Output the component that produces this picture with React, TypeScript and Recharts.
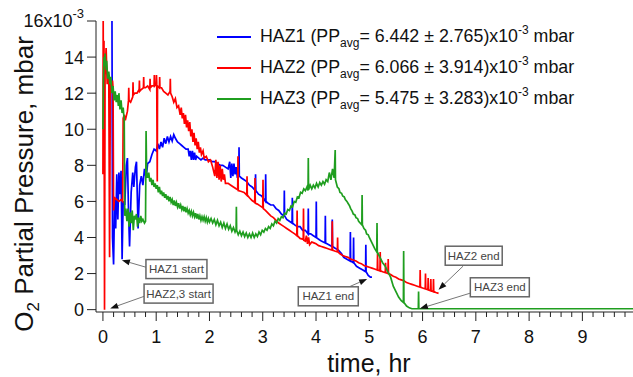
import React from "react";
import { LineChart, Line, XAxis, YAxis, Label, ReferenceLine, ReferenceDot } from "recharts";

// time (hr), O2 partial pressure (x10^-3 mbar)
const haz1: [number, number][] = [
  [0.17, 16.0], [0.18, 4.0], [0.2, 2.5], [0.22, 6.2], [0.24, 4.5], [0.26, 7.5], [0.28, 5.0],
  [0.3, 7.6], [0.32, 6.4], [0.34, 7.7], [0.35, 5.5], [0.36, 2.8], [0.38, 6.0], [0.41, 5.8],
  [0.44, 8.0], [0.46, 8.4], [0.48, 5.5], [0.5, 3.5], [0.53, 6.5], [0.56, 7.6], [0.58, 6.8],
  [0.61, 7.9], [0.63, 8.2], [0.66, 4.5], [0.69, 6.9], [0.72, 7.4], [0.75, 6.9], [0.78, 7.8],
  [0.81, 7.3], [0.84, 8.1], [0.88, 8.2], [0.92, 8.6], [0.96, 8.9], [1.0, 8.8], [1.03, 9.2],
  [1.06, 8.9], [1.09, 9.3], [1.12, 9.0], [1.15, 9.5], [1.18, 9.2], [1.21, 9.6], [1.24, 9.3],
  [1.27, 9.6], [1.3, 9.35], [1.33, 9.7], [1.36, 9.5], [1.4, 9.3], [1.44, 9.2], [1.48, 9.1],
  [1.52, 9.0], [1.56, 8.9], [1.6, 8.9], [1.62, 8.5], [1.64, 8.8], [1.66, 8.3], [1.68, 8.8],
  [1.7, 8.3], [1.72, 8.7], [1.74, 8.3], [1.76, 8.5], [1.8, 8.4], [1.84, 8.3], [1.88, 8.4],
  [1.92, 8.3], [1.96, 8.3], [2.0, 8.3], [2.05, 8.2], [2.1, 8.2], [2.15, 8.1], [2.2, 8.0],
  [2.25, 8.0], [2.3, 7.9], [2.35, 7.8], [2.38, 8.2], [2.4, 7.3], [2.42, 8.1], [2.44, 7.4],
  [2.46, 8.1], [2.48, 7.5], [2.5, 7.9], [2.52, 7.4], [2.55, 7.5], [2.555, 9.0], [2.56, 7.4],
  [2.6, 7.3], [2.65, 7.2], [2.7, 7.1], [2.75, 6.9], [2.8, 6.8], [2.86, 6.6], [2.865, 7.5],
  [2.87, 6.6], [2.92, 6.4], [2.98, 6.3], [3.05, 6.0], [3.055, 7.5], [3.06, 6.0], [3.1, 5.9],
  [3.15, 5.8], [3.2, 5.8], [3.25, 5.6], [3.3, 5.5], [3.35, 5.3], [3.4, 5.2], [3.405, 6.6],
  [3.41, 5.2], [3.45, 5.0], [3.5, 4.9], [3.55, 4.8], [3.555, 6.2], [3.56, 4.8], [3.6, 4.7],
  [3.65, 4.6], [3.7, 4.6], [3.75, 4.4], [3.8, 4.4], [3.85, 4.2], [3.855, 5.6], [3.86, 4.2],
  [3.9, 4.2], [3.95, 4.1], [4.0, 4.0], [4.005, 6.0], [4.01, 4.0], [4.05, 3.9], [4.1, 3.8],
  [4.17, 3.7], [4.175, 5.2], [4.18, 3.7], [4.24, 3.6], [4.3, 3.5], [4.305, 5.0], [4.31, 3.5],
  [4.36, 3.4], [4.42, 3.3], [4.48, 3.1], [4.52, 2.9], [4.58, 2.8], [4.64, 2.7], [4.645, 4.3],
  [4.65, 2.7], [4.7, 2.6], [4.705, 4.0], [4.71, 2.6], [4.76, 2.4], [4.82, 2.3], [4.88, 2.2],
  [4.93, 2.1], [4.935, 3.6], [4.94, 2.1], [4.98, 1.9], [5.02, 1.8], [5.05, 1.8],
];

const haz2: [number, number][] = [
  [0.0, 7.5], [0.005, 16.0], [0.012, 8.0], [0.02, 14.9], [0.03, 0.0], [0.04, 13.0],
  [0.06, 14.5], [0.08, 12.5], [0.11, 13.0], [0.125, 2.9], [0.14, 12.8], [0.16, 12.2],
  [0.18, 12.7], [0.19, 12.3], [0.2, 5.5], [0.22, 6.2], [0.26, 6.1], [0.3, 6.0], [0.34, 6.1],
  [0.37, 6.0], [0.38, 10.6], [0.4, 10.8], [0.42, 10.5], [0.46, 11.0], [0.48, 11.6],
  [0.485, 12.3], [0.49, 11.6], [0.52, 11.5], [0.56, 11.8], [0.565, 12.6], [0.57, 11.9],
  [0.6, 12.0], [0.64, 12.0], [0.68, 12.2], [0.685, 12.7], [0.69, 12.1], [0.72, 12.2],
  [0.76, 12.3], [0.765, 12.9], [0.77, 12.3], [0.8, 12.3], [0.84, 12.4], [0.88, 12.2],
  [0.885, 12.8], [0.89, 12.3], [0.92, 12.4], [0.96, 12.4], [0.965, 13.0], [0.97, 12.4],
  [1.0, 12.5], [1.005, 13.0], [1.01, 12.6], [1.02, 7.1], [1.025, 12.4], [1.06, 12.3],
  [1.065, 12.9], [1.07, 12.3], [1.1, 12.3], [1.14, 12.1], [1.18, 12.0], [1.22, 11.9],
  [1.26, 12.1], [1.265, 12.8], [1.27, 12.0], [1.3, 11.8], [1.33, 11.5], [1.36, 11.7],
  [1.39, 11.2], [1.42, 11.3], [1.45, 10.8], [1.47, 11.2], [1.49, 10.6], [1.51, 10.9],
  [1.53, 10.3], [1.55, 10.8], [1.57, 10.1], [1.59, 10.5], [1.61, 9.9], [1.63, 10.4],
  [1.65, 9.6], [1.67, 10.0], [1.69, 9.3], [1.71, 9.8], [1.73, 9.1], [1.75, 9.5], [1.77, 8.9],
  [1.79, 9.3], [1.81, 8.7], [1.83, 9.0], [1.85, 8.6], [1.88, 8.8], [1.9, 8.4], [1.94, 8.5],
  [1.98, 8.2], [2.02, 8.3], [2.06, 7.9], [2.1, 7.4], [2.12, 8.3], [2.14, 7.3], [2.16, 8.2],
  [2.18, 7.2], [2.2, 8.0], [2.22, 7.1], [2.24, 7.8], [2.26, 7.2], [2.28, 7.5], [2.3, 7.0],
  [2.35, 7.0], [2.4, 6.9], [2.45, 6.8], [2.5, 6.7], [2.53, 6.65], [2.535, 8.5], [2.54, 6.6],
  [2.6, 6.55], [2.65, 6.5], [2.7, 6.35], [2.705, 7.4], [2.71, 6.35], [2.75, 6.2], [2.8, 6.05],
  [2.85, 5.95], [2.855, 7.3], [2.86, 5.9], [2.9, 5.85], [2.95, 5.75], [3.0, 5.65],
  [3.005, 7.2], [3.01, 5.6], [3.05, 5.5], [3.1, 5.35], [3.15, 5.2], [3.2, 5.1], [3.25, 4.95],
  [3.3, 4.8], [3.35, 4.7], [3.4, 4.6], [3.45, 4.5], [3.5, 4.4], [3.55, 4.3], [3.6, 4.2],
  [3.64, 4.1], [3.645, 5.5], [3.65, 4.1], [3.7, 3.95], [3.76, 3.9], [3.765, 5.6], [3.77, 3.85],
  [3.8, 3.8], [3.82, 4.1], [3.84, 3.65], [3.86, 4.0], [3.88, 3.6], [3.92, 3.75], [3.96, 3.7],
  [4.0, 3.65], [4.05, 3.55], [4.1, 3.5], [4.15, 3.45], [4.2, 3.4], [4.25, 3.35], [4.3, 3.3],
  [4.305, 4.9], [4.31, 3.3], [4.35, 3.25], [4.4, 3.2], [4.405, 4.0], [4.41, 3.2], [4.45, 3.1],
  [4.5, 3.0], [4.55, 2.95], [4.6, 2.9], [4.65, 2.8], [4.7, 2.75], [4.75, 2.7], [4.8, 2.6],
  [4.85, 2.55], [4.9, 2.45], [4.95, 2.4], [5.0, 2.35], [5.05, 2.3], [5.1, 2.25], [5.15, 2.2],
  [5.155, 3.1], [5.16, 2.2], [5.2, 2.15], [5.205, 3.2], [5.21, 2.15], [5.25, 2.1], [5.3, 2.05],
  [5.305, 2.6], [5.31, 2.05], [5.35, 2.0], [5.355, 2.8], [5.36, 2.0], [5.4, 1.95], [5.45, 1.85],
  [5.5, 1.8], [5.55, 1.7], [5.6, 1.65], [5.65, 1.6], [5.7, 1.5], [5.75, 1.45], [5.8, 1.4],
  [5.85, 1.35], [5.9, 1.3], [5.95, 1.25], [5.955, 2.2], [5.96, 1.25], [6.0, 1.2], [6.05, 1.15],
  [6.055, 2.0], [6.06, 1.15], [6.1, 1.1], [6.105, 1.75], [6.11, 1.1], [6.15, 1.05],
  [6.155, 1.7], [6.16, 1.05], [6.2, 1.0], [6.205, 1.7], [6.21, 1.0], [6.25, 0.95], [6.3, 0.9],
];

const haz3: [number, number][] = [
  [0.0, 10.0], [0.01, 12.6], [0.02, 14.0], [0.03, 13.5], [0.04, 14.2], [0.06, 13.3],
  [0.07, 13.8], [0.09, 12.8], [0.11, 13.2], [0.13, 12.5], [0.15, 12.9], [0.17, 12.0],
  [0.19, 12.4], [0.21, 11.6], [0.23, 12.1], [0.25, 11.5], [0.27, 11.9], [0.29, 11.3],
  [0.3, 12.0], [0.32, 11.1], [0.34, 11.6], [0.36, 10.9], [0.38, 11.2], [0.4, 10.5],
  [0.41, 5.2], [0.43, 5.6], [0.45, 4.9], [0.47, 5.6], [0.49, 4.6], [0.51, 5.4], [0.53, 4.8],
  [0.55, 5.5], [0.57, 4.4], [0.59, 5.2], [0.61, 5.0], [0.63, 5.3], [0.65, 4.6], [0.67, 5.1],
  [0.69, 4.8], [0.71, 5.2], [0.73, 4.9], [0.75, 5.0], [0.78, 4.8], [0.8, 4.9], [0.81, 9.9],
  [0.82, 7.6], [0.84, 7.3], [0.86, 7.6], [0.88, 7.1], [0.9, 7.3], [0.92, 6.9], [0.94, 7.2],
  [0.96, 6.8], [0.98, 7.0], [1.0, 6.7], [1.02, 6.9], [1.04, 6.5], [1.06, 6.8], [1.08, 6.4],
  [1.1, 6.6], [1.12, 6.3], [1.14, 6.5], [1.16, 6.2], [1.18, 6.4], [1.2, 6.1], [1.22, 6.3],
  [1.24, 6.0], [1.26, 6.25], [1.28, 5.95], [1.3, 6.1], [1.32, 5.8], [1.34, 6.05], [1.36, 5.75],
  [1.38, 5.95], [1.4, 5.7], [1.42, 5.9], [1.44, 5.6], [1.46, 5.8], [1.48, 5.55], [1.5, 5.75],
  [1.52, 5.45], [1.54, 5.7], [1.56, 5.4], [1.58, 5.6], [1.6, 5.35], [1.62, 5.5], [1.64, 5.25],
  [1.66, 5.45], [1.68, 5.2], [1.7, 5.4], [1.72, 5.15], [1.74, 5.35], [1.76, 5.05], [1.78, 5.3],
  [1.8, 5.0], [1.82, 5.2], [1.84, 4.95], [1.86, 5.15], [1.88, 4.95], [1.9, 5.15], [1.92, 4.9],
  [1.94, 5.1], [1.96, 4.85], [1.98, 5.05], [2.0, 4.85], [2.03, 5.05], [2.06, 4.8], [2.09, 5.0],
  [2.12, 4.7], [2.15, 4.95], [2.18, 4.65], [2.21, 4.85], [2.24, 4.55], [2.27, 4.8], [2.3, 4.5],
  [2.33, 4.75], [2.36, 4.45], [2.39, 4.65], [2.42, 4.35], [2.45, 4.55], [2.48, 4.3],
  [2.5, 4.45], [2.505, 5.7], [2.51, 4.4], [2.54, 4.15], [2.57, 4.35], [2.6, 4.1], [2.63, 4.3],
  [2.66, 4.05], [2.69, 4.25], [2.72, 4.0], [2.75, 4.2], [2.78, 4.0], [2.81, 4.25], [2.84, 4.0],
  [2.87, 4.2], [2.9, 4.05], [2.93, 4.3], [2.96, 4.15], [2.99, 4.4], [3.02, 4.3], [3.05, 4.5],
  [3.08, 4.4], [3.11, 4.6], [3.14, 4.5], [3.17, 4.75], [3.2, 4.65], [3.23, 4.9], [3.26, 4.8],
  [3.29, 5.05], [3.32, 4.95], [3.35, 5.15], [3.38, 5.1], [3.41, 5.35], [3.44, 5.3],
  [3.47, 5.55], [3.5, 5.5], [3.53, 5.75], [3.56, 5.7], [3.59, 6.0], [3.62, 5.95], [3.65, 6.25],
  [3.68, 6.2], [3.71, 6.5], [3.74, 6.45], [3.77, 6.7], [3.8, 6.6], [3.83, 6.8], [3.85, 6.6],
  [3.855, 8.4], [3.86, 6.65], [3.89, 6.9], [3.92, 6.7], [3.95, 6.9], [3.98, 6.75], [4.01, 7.0],
  [4.04, 6.8], [4.07, 7.05], [4.1, 6.9], [4.13, 7.1], [4.16, 6.95], [4.19, 7.2], [4.22, 7.1],
  [4.25, 7.6], [4.28, 7.2], [4.31, 7.8], [4.34, 7.3], [4.36, 8.85], [4.365, 7.2], [4.4, 6.8],
  [4.43, 6.7], [4.45, 6.5], [4.48, 6.45], [4.5, 6.3], [4.53, 6.25], [4.55, 6.1], [4.58, 6.0],
  [4.6, 5.9], [4.63, 5.75], [4.65, 5.6], [4.68, 5.45], [4.7, 5.3], [4.73, 5.25], [4.75, 5.1],
  [4.78, 5.05], [4.8, 4.9], [4.86, 4.7], [4.865, 6.35], [4.87, 4.7], [4.9, 4.5], [4.93, 4.4],
  [4.95, 4.2], [4.98, 4.15], [5.0, 4.0], [5.05, 3.7], [5.1, 3.4], [5.14, 3.2], [5.145, 4.8],
  [5.15, 3.2], [5.2, 2.9], [5.25, 2.6], [5.3, 2.4], [5.35, 2.1], [5.4, 1.8], [5.45, 1.3],
  [5.5, 1.0], [5.55, 0.7], [5.6, 0.5], [5.64, 0.4], [5.645, 3.25], [5.65, 0.4], [5.7, 0.2],
  [5.75, 0.1], [5.8, 0.05], [5.92, 0.05], [5.925, 1.0], [5.93, 0.05], [9.95, 0.05],
];

const seriesNames = ["HAZ1", "HAZ2", "HAZ3"];
const seriesColors = ["#0000ff", "#ff0000", "#1f9e1f"];
const ppAvg = ["6.442", "6.066", "5.475"];
const ppErr = ["2.765", "3.914", "3.283"];

const yTicks = [0, 2, 4, 6, 8, 10, 12, 14, 16];
const xTicks = Array.from({ length: 50 }, (_, i) => Math.round(i * 2) / 10);

// annotation boxes: label, centre time, centre value, box width
const notes: [string, number, number, number][] = [
  ["HAZ1 start", 1.38, 2.25, 61],
  ["HAZ2,3 start", 1.42, 0.89, 69],
  ["HAZ1 end", 4.23, 0.74, 60],
  ["HAZ2 end", 6.96, 2.99, 57],
  ["HAZ3 end", 7.45, 1.24, 59],
];
// arrows: from (t, v) to (t, v)
const arrows: [number, number, number, number][] = [
  [0.81, 2.35, 0.356, 2.74],
  [0.775, 0.74, 0.137, 0.07],
  [4.64, 1.29, 4.96, 1.7],
  [6.76, 2.41, 6.3, 1.11],
  [6.89, 0.91, 5.95, 0.06],
];

const FONT = "'Liberation Sans', Arial, sans-serif";

const toRows = (pts: [number, number][]) => pts.map(([t, p]) => ({ t, p }));

const XTick = (props: any) => {
  const { x, y, payload } = props;
  const v = payload.value;
  const major = Math.abs(v - Math.round(v)) < 1e-6;
  return (
    <g>
      <line x1={x} x2={x} y1={y} y2={y + (major ? 9 : 5)} stroke="#222" strokeWidth={1} />
      {major && (
        <text x={x} y={y + 31} textAnchor="middle" fontSize={18} fontFamily={FONT} fill="#111">
          {Math.round(v)}
        </text>
      )}
    </g>
  );
};

const YTick = (props: any) => {
  const { x, y, payload } = props;
  return (
    <text x={x} y={y} dy="0.36em" textAnchor="end" fontSize={18} fontFamily={FONT} fill="#111">
      {payload.value === 16 ? (
        <>
          16x10<tspan dy={-9} fontSize={13}>-3</tspan>
        </>
      ) : (
        payload.value
      )}
    </text>
  );
};

const YTitle = (props: any) => {
  const vb = props.viewBox || { x: 0 };
  const cx = vb.x + 33;
  const cy = 184;
  return (
    <text
      x={cx}
      y={cy}
      transform={`rotate(-90, ${cx}, ${cy})`}
      textAnchor="middle"
      fontSize={26}
      fontFamily={FONT}
      fill="#111"
    >
      O<tspan fontSize={17} dy={6}>2</tspan>
      <tspan dy={-6}> Partial Pressure, mbar</tspan>
    </text>
  );
};

const XTitle = (props: any) => {
  const vb = props.viewBox || { y: 312 };
  return (
    <text x={369} y={vb.y + 60} textAnchor="middle" fontSize={25} fontFamily={FONT} fill="#111">
      time, hr
    </text>
  );
};

const arrowShape = (p: any) => {
  const { x1, y1, x2, y2 } = p;
  if (x1 == null) return <g />;
  const a = Math.atan2(y2 - y1, x2 - x1);
  const L = 8;
  const W = 3;
  const bx = x2 - L * Math.cos(a);
  const by = y2 - L * Math.sin(a);
  const pts = `${x2},${y2} ${bx - W * Math.sin(a)},${by + W * Math.cos(a)} ${bx + W * Math.sin(a)},${by - W * Math.cos(a)}`;
  return (
    <g>
      <line x1={x1} y1={y1} x2={bx} y2={by} stroke="#777" strokeWidth={1} />
      <polygon points={pts} fill="#111" />
    </g>
  );
};

const boxShape = (label: string, w: number) => (p: any) => {
  const { cx, cy } = p;
  const h = 19;
  return (
    <g>
      <rect x={cx - w / 2} y={cy - h / 2} width={w} height={h} fill="#fff" stroke="#666" strokeWidth={1.5} />
      <text x={cx} y={cy + 4} textAnchor="middle" fontSize={11.5} fontFamily={FONT} fill="#444">
        {label}
      </text>
    </g>
  );
};

const LegendBox = () => (
  <div style={{ position: "absolute", left: 0, top: 0, fontFamily: FONT, color: "#111" }}>
    {seriesNames.map((name, i) => (
      <div
        key={name}
        style={{
          position: "absolute",
          left: 217,
          top: 27 + i * 31,
          height: 20,
          lineHeight: "20px",
          whiteSpace: "nowrap",
          display: "flex",
          alignItems: "center",
          fontSize: 17.8,
        }}
      >
        <span style={{ display: "inline-block", width: 34, height: 2, background: seriesColors[i], marginRight: 9 }} />
        <span>
          {name} (PP
          <span style={{ fontSize: 12, position: "relative", top: 5 }}>avg</span>= {ppAvg[i]} ± {ppErr[i]})x10
          <span style={{ fontSize: 12, position: "relative", top: -8 }}>-3</span> mbar
        </span>
      </div>
    ))}
  </div>
);

export default function App() {
  const data = [toRows(haz1), toRows(haz2), toRows(haz3)];
  return (
    <div style={{ position: "relative", width: 633, height: 377, background: "#fff" }}>
      <style>{"body{margin:0}"}</style>
      <LineChart width={633} height={377} margin={{ top: 21, right: 0, left: 0, bottom: 0 }}>
        <XAxis
          dataKey="t"
          type="number"
          domain={[-0.13, 9.95]}
          allowDataOverflow
          ticks={xTicks}
          interval={0}
          tickSize={0}
          tickMargin={0}
          tickLine={false}
          tick={<XTick />}
          height={65}
          stroke="#222"
        >
          <Label content={<XTitle />} />
        </XAxis>
        <YAxis
          type="number"
          domain={[-0.13, 16]}
          allowDataOverflow
          ticks={yTicks}
          interval={0}
          tickSize={9}
          tickMargin={3}
          tick={<YTick />}
          width={96}
          stroke="#222"
        >
          <Label content={<YTitle />} />
        </YAxis>
        {data.map((rows, i) => (
          <Line
            key={seriesNames[i]}
            data={rows}
            dataKey="p"
            name={seriesNames[i]}
            type="linear"
            stroke={seriesColors[i]}
            strokeWidth={1.7}
            dot={false}
            activeDot={false}
            isAnimationActive={false}
          />
        ))}
        {arrows.map(([t1, v1, t2, v2], i) => (
          <ReferenceLine
            key={"a" + i}
            segment={[
              { x: t1, y: v1 },
              { x: t2, y: v2 },
            ]}
            ifOverflow="visible"
            shape={arrowShape}
          />
        ))}
        {notes.map(([label, t, v, w]) => (
          <ReferenceDot key={label} x={t} y={v} r={1} ifOverflow="visible" shape={boxShape(label, w)} />
        ))}
      </LineChart>
      <LegendBox />
    </div>
  );
}
